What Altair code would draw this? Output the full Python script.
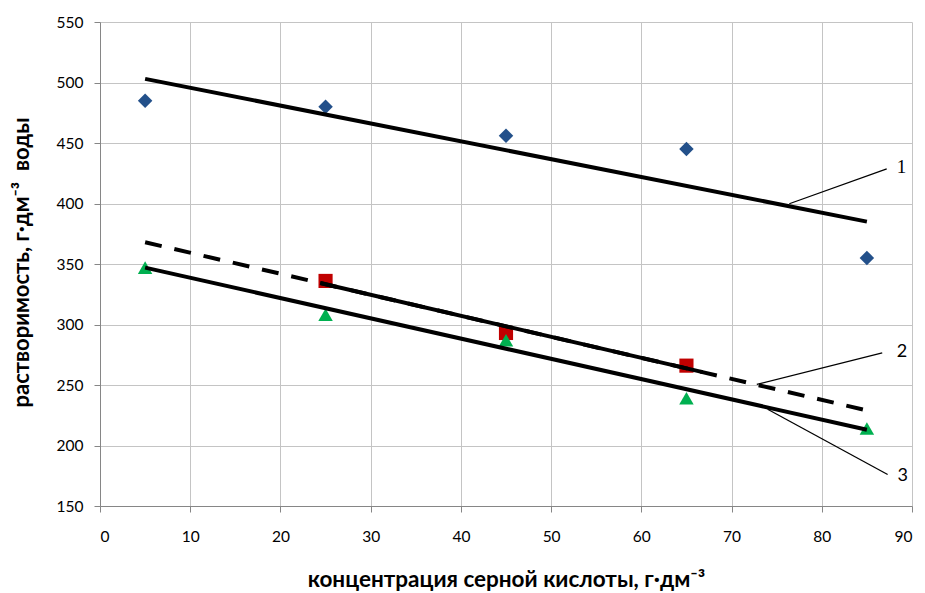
import altair as alt
import pandas as pd

# ---- data ----
conc = [5, 25, 45, 65, 85]
sol_1 = [485, 480, 456, 445, 355]           # diamonds
conc_2 = [25, 45, 65]
sol_2 = [336, 293, 266]                     # squares
sol_3 = [347, 308, 287, 239, 214]           # triangles

trend1_x = [5, 85]
trend1_y = [503, 385]
trend2_x = [5, 85]
trend2_y = [368, 229]
trend2_solid_x = [24.4, 66.8]
trend2_solid_y = [334.3, 260.6]
trend3_x = [5, 85]
trend3_y = [347, 213]

leader_x = [76.4, 72.8, 74.0]
leader_y = [399.8, 250.5, 230.0]
leader_x2 = [87.2, 86.7, 87.3]
leader_y2 = [428.7, 276.6, 176.0]
label_x = [88.3, 88.3, 88.4]
label_y = [430, 277, 175]
label_txt = ["1", "2", "3"]

x_ticks = list(range(0, 91, 10))
y_ticks = list(range(150, 551, 50))

X_TITLE = "концентрация серной кислоты, г·дм⁻³"
Y_TITLE = "растворимость, г·дм⁻³\u00a0\u00a0воды"

xs = alt.Scale(domain=[0, 90], nice=False)
ys = alt.Scale(domain=[150, 550], nice=False)

df1 = pd.DataFrame({"x": conc, "y": sol_1})
df2 = pd.DataFrame({"x": conc_2, "y": sol_2})
df3 = pd.DataFrame({"x": conc, "y": sol_3})

xaxis = alt.Axis(values=x_ticks, title=X_TITLE, titleX=406, titleY=80,
                 titleBaseline="alphabetic", titleAlign="center", titleFontSize=22.5)
yaxis = alt.Axis(values=y_ticks, title=Y_TITLE, titleX=-72, titleY=240,
                 titleAngle=-90, titleBaseline="alphabetic", titleAlign="center",
                 titleFontSize=22)

base_x = alt.X("x:Q", scale=xs, axis=xaxis)
base_y = alt.Y("y:Q", scale=ys, axis=yaxis)

pts1 = alt.Chart(df1).mark_point(shape="diamond", filled=True, opacity=1,
                                 color="#23508A", size=210).encode(x=base_x, y=base_y)
pts2 = alt.Chart(df2).mark_point(shape="square", filled=True, opacity=1,
                                 color="#C00000", size=200).encode(x="x:Q", y="y:Q")
pts3 = alt.Chart(df3).mark_point(shape="triangle-up", filled=True, opacity=1,
                                 color="#00B050", size=210).encode(x="x:Q", y="y:Q")

def line(xv, yv, dash=None):
    d = pd.DataFrame({"x": xv, "y": yv})
    kw = dict(color="black", strokeWidth=4, strokeCap="butt")
    if dash:
        kw["strokeDash"] = dash
    return alt.Chart(d).mark_line(**kw).encode(x="x:Q", y="y:Q")

t1 = line(trend1_x, trend1_y)
t2 = line(trend2_x, trend2_y, dash=[17, 13])
t2s = line(trend2_solid_x, trend2_solid_y)
t3 = line(trend3_x, trend3_y)

ldf = pd.DataFrame({"x": leader_x, "y": leader_y, "x2": leader_x2, "y2": leader_y2})
leaders = alt.Chart(ldf).mark_rule(color="black", strokeWidth=1.3).encode(
    x="x:Q", y="y:Q", x2="x2:Q", y2="y2:Q")

labdf = pd.DataFrame({"x": label_x, "y": label_y, "t": label_txt})
lab1 = alt.Chart(labdf.iloc[[0]]).mark_text(font="Liberation Serif", fontSize=19,
                                             align="left", baseline="middle",
                                             color="black").encode(x="x:Q", y="y:Q", text="t:N")
lab23 = alt.Chart(labdf.iloc[1:]).mark_text(font="Lato", fontSize=18,
                                             align="left", baseline="middle",
                                             color="black").encode(x="x:Q", y="y:Q", text="t:N")

chart = alt.layer(pts1, pts2, pts3, t1, t2, t2s, t3, leaders, lab1, lab23).properties(
    width=812, height=484,
    autosize=alt.AutoSizeParams(type="none"),
    padding={"left": 100, "top": 22, "right": 13, "bottom": 87},
).configure_view(stroke=None).configure_axis(
    labelFont="Lato", labelFontSize=15.5, labelColor="#000000",
    titleFont="Lato", titleFontWeight="bold", titleColor="#000000",
    domainColor="#868686", tickColor="#868686", tickSize=6,
    gridColor="#c4c4c4", gridWidth=1, grid=True,
).configure_axisX(labelPadding=17).configure_axisY(labelPadding=11)

chart.save("out.html", embed_options={"renderer": "svg", "actions": False})
